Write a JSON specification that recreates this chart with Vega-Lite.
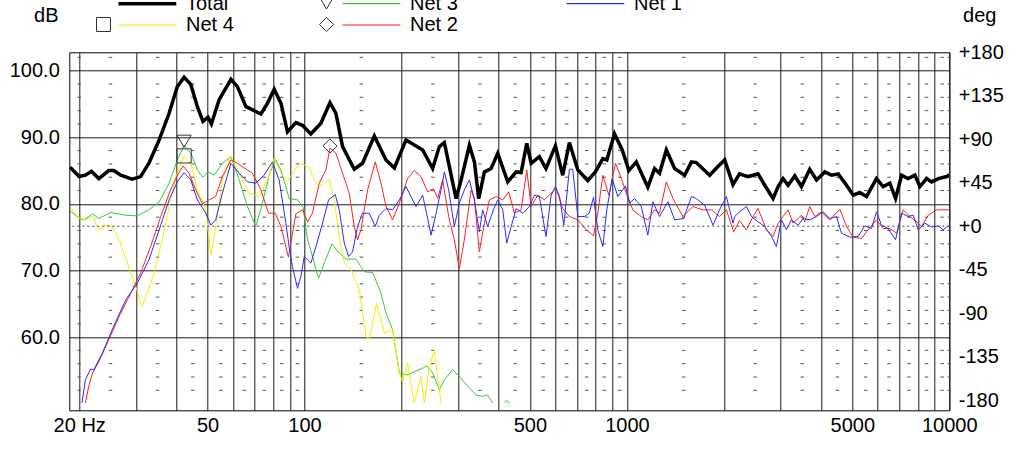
{
  "width": 880,
  "height": 358,
  "autosize": {"type": "none"},
  "padding": {"left": 69.3, "top": 52.3, "right": 74.7, "bottom": 51.7},
  "background": "white",
  "datasets": {
    "minor": [
      {"dB": 52, "freq": [20,25,35,45,55,65,75,85,95,150,250,350,450,550,650,750,850,950,1500,2500,3500,4500,5500,6500,7500,8500,9500,10000]},
      {"dB": 54, "freq": [20,25,35,45,55,65,75,85,95,150,250,350,450,550,650,750,850,950,1500,2500,3500,4500,5500,6500,7500,8500,9500,10000]},
      {"dB": 56, "freq": [20,25,35,45,55,65,75,85,95,150,250,350,450,550,650,750,850,950,1500,2500,3500,4500,5500,6500,7500,8500,9500,10000]},
      {"dB": 58, "freq": [20,25,35,45,55,65,75,85,95,150,250,350,450,550,650,750,850,950,1500,2500,3500,4500,5500,6500,7500,8500,9500,10000]},
      {"dB": 62, "freq": [20,25,35,45,55,65,75,85,95,150,250,350,450,550,650,750,850,950,1500,2500,3500,4500,5500,6500,7500,8500,9500,10000]},
      {"dB": 64, "freq": [20,25,35,45,55,65,75,85,95,150,250,350,450,550,650,750,850,950,1500,2500,3500,4500,5500,6500,7500,8500,9500,10000]},
      {"dB": 66, "freq": [20,25,35,45,55,65,75,85,95,150,250,350,450,550,650,750,850,950,1500,2500,3500,4500,5500,6500,7500,8500,9500,10000]},
      {"dB": 68, "freq": [20,25,35,45,55,65,75,85,95,150,250,350,450,550,650,750,850,950,1500,2500,3500,4500,5500,6500,7500,8500,9500,10000]},
      {"dB": 72, "freq": [20,25,35,45,55,65,75,85,95,150,250,350,450,550,650,750,850,950,1500,2500,3500,4500,5500,6500,7500,8500,9500,10000]},
      {"dB": 74, "freq": [20,25,35,45,55,65,75,85,95,150,250,350,450,550,650,750,850,950,1500,2500,3500,4500,5500,6500,7500,8500,9500,10000]},
      {"dB": 76, "freq": [20,25,35,45,55,65,75,85,95,150,250,350,450,550,650,750,850,950,1500,2500,3500,4500,5500,6500,7500,8500,9500,10000]},
      {"dB": 78, "freq": [20,25,35,45,55,65,75,85,95,150,250,350,450,550,650,750,850,950,1500,2500,3500,4500,5500,6500,7500,8500,9500,10000]},
      {"dB": 82, "freq": [20,25,35,45,55,65,75,85,95,150,250,350,450,550,650,750,850,950,1500,2500,3500,4500,5500,6500,7500,8500,9500,10000]},
      {"dB": 84, "freq": [20,25,35,45,55,65,75,85,95,150,250,350,450,550,650,750,850,950,1500,2500,3500,4500,5500,6500,7500,8500,9500,10000]},
      {"dB": 86, "freq": [20,25,35,45,55,65,75,85,95,150,250,350,450,550,650,750,850,950,1500,2500,3500,4500,5500,6500,7500,8500,9500,10000]},
      {"dB": 88, "freq": [20,25,35,45,55,65,75,85,95,150,250,350,450,550,650,750,850,950,1500,2500,3500,4500,5500,6500,7500,8500,9500,10000]},
      {"dB": 92, "freq": [20,25,35,45,55,65,75,85,95,150,250,350,450,550,650,750,850,950,1500,2500,3500,4500,5500,6500,7500,8500,9500,10000]},
      {"dB": 94, "freq": [20,25,35,45,55,65,75,85,95,150,250,350,450,550,650,750,850,950,1500,2500,3500,4500,5500,6500,7500,8500,9500,10000]},
      {"dB": 96, "freq": [20,25,35,45,55,65,75,85,95,150,250,350,450,550,650,750,850,950,1500,2500,3500,4500,5500,6500,7500,8500,9500,10000]},
      {"dB": 98, "freq": [20,25,35,45,55,65,75,85,95,150,250,350,450,550,650,750,850,950,1500,2500,3500,4500,5500,6500,7500,8500,9500,10000]},
      {"dB": 102, "freq": [20,25,35,45,55,65,75,85,95,150,250,350,450,550,650,750,850,950,1500,2500,3500,4500,5500,6500,7500,8500,9500,10000]}
    ],
    "markers": [
      {"series": "Net 3", "freq": 42.3, "dB": 89.4},
      {"series": "Net 4", "freq": 42.3, "dB": 87.2},
      {"series": "Net 2", "freq": 119.9, "dB": 88.7}
    ],
    "curves": [
      {"series":"Total","freq":18.7,"dB":85.5},{"series":"Total","freq":18.9,"dB":85.3},{"series":"Total","freq":20.0,"dB":84.1},{"series":"Total","freq":20.9,"dB":84.3},{"series":"Total","freq":21.8,"dB":84.9},{"series":"Total","freq":23.0,"dB":83.8},{"series":"Total","freq":24.7,"dB":85.0},{"series":"Total","freq":25.6,"dB":85.0},{"series":"Total","freq":26.9,"dB":84.3},{"series":"Total","freq":29.2,"dB":83.7},{"series":"Total","freq":31.0,"dB":84.1},{"series":"Total","freq":32.9,"dB":86.1},{"series":"Total","freq":35.4,"dB":89.6},{"series":"Total","freq":38.0,"dB":93.6},{"series":"Total","freq":40.3,"dB":97.6},{"series":"Total","freq":42.3,"dB":99.0},{"series":"Total","freq":44.4,"dB":97.9},{"series":"Total","freq":46.5,"dB":94.6},{"series":"Total","freq":48.4,"dB":92.4},{"series":"Total","freq":50.2,"dB":93.0},{"series":"Total","freq":51.4,"dB":92.0},{"series":"Total","freq":54.3,"dB":95.6},{"series":"Total","freq":59.1,"dB":98.7},{"series":"Total","freq":61.9,"dB":97.6},{"series":"Total","freq":65.8,"dB":94.6},{"series":"Total","freq":73.2,"dB":93.5},{"series":"Total","freq":76.7,"dB":95.1},{"series":"Total","freq":80.5,"dB":97.2},{"series":"Total","freq":84.5,"dB":95.1},{"series":"Total","freq":88.5,"dB":90.8},{"series":"Total","freq":94.0,"dB":92.2},{"series":"Total","freq":98.5,"dB":91.8},{"series":"Total","freq":104.6,"dB":90.5},{"series":"Total","freq":112.4,"dB":92.1},{"series":"Total","freq":119.9,"dB":95.2},{"series":"Total","freq":125.1,"dB":93.6},{"series":"Total","freq":131.2,"dB":88.6},{"series":"Total","freq":142.6,"dB":85.2},{"series":"Total","freq":151.3,"dB":86.1},{"series":"Total","freq":164.6,"dB":90.2},{"series":"Total","freq":178.9,"dB":86.6},{"series":"Total","freq":189.9,"dB":85.4},{"series":"Total","freq":206.4,"dB":89.6},{"series":"Total","freq":232.5,"dB":88.1},{"series":"Total","freq":249.7,"dB":85.3},{"series":"Total","freq":261.9,"dB":88.6},{"series":"Total","freq":271.5,"dB":89.2},{"series":"Total","freq":281.3,"dB":85.6},{"series":"Total","freq":295.1,"dB":80.8},{"series":"Total","freq":306,"dB":83.6},{"series":"Total","freq":324.6,"dB":88.8},{"series":"Total","freq":336.4,"dB":86.3},{"series":"Total","freq":346.9,"dB":80.8},{"series":"Total","freq":361.3,"dB":84.8},{"series":"Total","freq":379,"dB":85.3},{"series":"Total","freq":397.3,"dB":87.6},{"series":"Total","freq":426.8,"dB":83.3},{"series":"Total","freq":453.2,"dB":84.8},{"series":"Total","freq":469.7,"dB":84.7},{"series":"Total","freq":489,"dB":89.1},{"series":"Total","freq":504.6,"dB":86.1},{"series":"Total","freq":535,"dB":87.1},{"series":"Total","freq":561,"dB":85.3},{"series":"Total","freq":600,"dB":88.7},{"series":"Total","freq":632,"dB":84.3},{"series":"Total","freq":663,"dB":89.2},{"series":"Total","freq":704,"dB":85.1},{"series":"Total","freq":756,"dB":83.5},{"series":"Total","freq":798,"dB":84.8},{"series":"Total","freq":842,"dB":86.8},{"series":"Total","freq":866,"dB":86.6},{"series":"Total","freq":915,"dB":90.5},{"series":"Total","freq":967,"dB":88.1},{"series":"Total","freq":1014,"dB":85.0},{"series":"Total","freq":1069,"dB":86.3},{"series":"Total","freq":1161,"dB":82.5},{"series":"Total","freq":1218,"dB":85.3},{"series":"Total","freq":1262,"dB":84.6},{"series":"Total","freq":1325,"dB":88.1},{"series":"Total","freq":1406,"dB":85.3},{"series":"Total","freq":1510,"dB":84.3},{"series":"Total","freq":1585,"dB":86.3},{"series":"Total","freq":1641,"dB":86.2},{"series":"Total","freq":1806,"dB":84.3},{"series":"Total","freq":1915,"dB":85.6},{"series":"Total","freq":2010,"dB":86.6},{"series":"Total","freq":2133,"dB":82.9},{"series":"Total","freq":2235,"dB":84.5},{"series":"Total","freq":2375,"dB":84.1},{"series":"Total","freq":2462,"dB":84.3},{"series":"Total","freq":2551,"dB":84.5},{"series":"Total","freq":2676,"dB":82.8},{"series":"Total","freq":2840,"dB":80.8},{"series":"Total","freq":2944,"dB":82.6},{"series":"Total","freq":3050,"dB":83.8},{"series":"Total","freq":3162,"dB":82.8},{"series":"Total","freq":3316,"dB":84.2},{"series":"Total","freq":3478,"dB":82.6},{"series":"Total","freq":3691,"dB":85.2},{"series":"Total","freq":3874,"dB":83.6},{"series":"Total","freq":4111,"dB":84.8},{"series":"Total","freq":4314,"dB":84.3},{"series":"Total","freq":4523,"dB":84.5},{"series":"Total","freq":4800,"dB":82.8},{"series":"Total","freq":5035,"dB":81.3},{"series":"Total","freq":5276,"dB":81.7},{"series":"Total","freq":5535,"dB":81.1},{"series":"Total","freq":5944,"dB":83.8},{"series":"Total","freq":6233,"dB":82.6},{"series":"Total","freq":6539,"dB":83.1},{"series":"Total","freq":6813,"dB":80.8},{"series":"Total","freq":7111,"dB":84.3},{"series":"Total","freq":7452,"dB":83.8},{"series":"Total","freq":7821,"dB":84.3},{"series":"Total","freq":8105,"dB":82.6},{"series":"Total","freq":8506,"dB":83.8},{"series":"Total","freq":8812,"dB":83.3},{"series":"Total","freq":9246,"dB":83.8},{"series":"Total","freq":9821,"dB":84.1},{"series":"Total","freq":10000,"dB":84.4},

      {"series":"Net 3","freq":18.7,"dB":79.0},{"series":"Net 3","freq":18.9,"dB":78.8},{"series":"Net 3","freq":20.0,"dB":77.8},{"series":"Net 3","freq":20.7,"dB":77.6},{"series":"Net 3","freq":22.0,"dB":78.5},{"series":"Net 3","freq":23.0,"dB":77.8},{"series":"Net 3","freq":25.0,"dB":78.7},{"series":"Net 3","freq":27.9,"dB":78.3},{"series":"Net 3","freq":30.3,"dB":78.2},{"series":"Net 3","freq":32.9,"dB":79.1},{"series":"Net 3","freq":35.4,"dB":80.3},{"series":"Net 3","freq":38.0,"dB":83.1},{"series":"Net 3","freq":40.3,"dB":86.6},{"series":"Net 3","freq":42.3,"dB":88.8},{"series":"Net 3","freq":44.4,"dB":87.6},{"series":"Net 3","freq":46.5,"dB":85.1},{"series":"Net 3","freq":48.4,"dB":84.0},{"series":"Net 3","freq":50.2,"dB":84.8},{"series":"Net 3","freq":52.4,"dB":84.3},{"series":"Net 3","freq":55.6,"dB":86.1},{"series":"Net 3","freq":59.1,"dB":87.1},{"series":"Net 3","freq":62.7,"dB":83.6},{"series":"Net 3","freq":66.5,"dB":79.6},{"series":"Net 3","freq":70.6,"dB":76.6},{"series":"Net 3","freq":74.0,"dB":80.1},{"series":"Net 3","freq":77.7,"dB":84.3},{"series":"Net 3","freq":81.1,"dB":86.7},{"series":"Net 3","freq":84.5,"dB":85.1},{"series":"Net 3","freq":89.6,"dB":80.8},{"series":"Net 3","freq":95.1,"dB":80.6},{"series":"Net 3","freq":99.0,"dB":79.5},{"series":"Net 3","freq":102.0,"dB":74.8},{"series":"Net 3","freq":105.8,"dB":72.1},{"series":"Net 3","freq":110.5,"dB":68.8},{"series":"Net 3","freq":115.1,"dB":71.1},{"series":"Net 3","freq":121.6,"dB":74.0},{"series":"Net 3","freq":128.1,"dB":72.6},{"series":"Net 3","freq":134.4,"dB":71.7},{"series":"Net 3","freq":144.4,"dB":71.7},{"series":"Net 3","freq":153.2,"dB":69.8},{"series":"Net 3","freq":162.6,"dB":69.7},{"series":"Net 3","freq":172.6,"dB":66.6},{"series":"Net 3","freq":178.9,"dB":63.6},{"series":"Net 3","freq":187.6,"dB":61.1},{"series":"Net 3","freq":196.8,"dB":54.6},{"series":"Net 3","freq":208.7,"dB":54.3},{"series":"Net 3","freq":218.9,"dB":54.8},{"series":"Net 3","freq":232.5,"dB":55.3},{"series":"Net 3","freq":239.2,"dB":55.7},{"series":"Net 3","freq":249.7,"dB":54.6},{"series":"Net 3","freq":261.9,"dB":52.1},{"series":"Net 3","freq":271.5,"dB":53.6},{"series":"Net 3","freq":288.0,"dB":55.1},{"series":"Net 3","freq":302.1,"dB":54.1},{"series":"Net 3","freq":320.7,"dB":52.6},{"series":"Net 3","freq":340.5,"dB":51.3},{"series":"Net 3","freq":356.9,"dB":51.1},{"series":"Net 3","freq":369.9,"dB":51.3},{"series":"Net 3","freq":383.4,"dB":50.1},{"series":"Net 3","freq":400,"dB":null},{"series":"Net 3","freq":416.9,"dB":50.1},{"series":"Net 3","freq":423.8,"dB":50.5},{"series":"Net 3","freq":432.1,"dB":50.0},

      {"series":"Net 4","freq":18.7,"dB":79.5},{"series":"Net 4","freq":18.9,"dB":79.3},{"series":"Net 4","freq":19.7,"dB":78.1},{"series":"Net 4","freq":20.9,"dB":77.6},{"series":"Net 4","freq":22.0,"dB":78.1},{"series":"Net 4","freq":23.0,"dB":76.1},{"series":"Net 4","freq":24.2,"dB":76.8},{"series":"Net 4","freq":25.3,"dB":76.6},{"series":"Net 4","freq":26.6,"dB":74.6},{"series":"Net 4","freq":28.2,"dB":71.1},{"series":"Net 4","freq":29.6,"dB":68.3},{"series":"Net 4","freq":31.3,"dB":64.6},{"series":"Net 4","freq":32.5,"dB":66.6},{"series":"Net 4","freq":34.1,"dB":69.6},{"series":"Net 4","freq":36.2,"dB":74.6},{"series":"Net 4","freq":38.4,"dB":80.6},{"series":"Net 4","freq":40.3,"dB":84.8},{"series":"Net 4","freq":42.3,"dB":87.2},{"series":"Net 4","freq":44.4,"dB":86.1},{"series":"Net 4","freq":46.5,"dB":82.1},{"series":"Net 4","freq":49.4,"dB":79.1},{"series":"Net 4","freq":51.2,"dB":72.3},{"series":"Net 4","freq":53.0,"dB":76.6},{"series":"Net 4","freq":55.6,"dB":83.6},{"series":"Net 4","freq":59.1,"dB":87.1},{"series":"Net 4","freq":62.7,"dB":84.6},{"series":"Net 4","freq":67.3,"dB":81.6},{"series":"Net 4","freq":72.3,"dB":81.1},{"series":"Net 4","freq":76.7,"dB":83.6},{"series":"Net 4","freq":80.5,"dB":86.8},{"series":"Net 4","freq":84.5,"dB":84.6},{"series":"Net 4","freq":88.5,"dB":83.3},{"series":"Net 4","freq":94.0,"dB":85.4},{"series":"Net 4","freq":98.5,"dB":86.0},{"series":"Net 4","freq":103.4,"dB":85.4},{"series":"Net 4","freq":107.1,"dB":83.6},{"series":"Net 4","freq":111.0,"dB":82.6},{"series":"Net 4","freq":115.1,"dB":83.1},{"series":"Net 4","freq":119.3,"dB":83.6},{"series":"Net 4","freq":123.6,"dB":80.6},{"series":"Net 4","freq":128.1,"dB":75.1},{"series":"Net 4","freq":132.8,"dB":71.1},{"series":"Net 4","freq":139.3,"dB":70.1},{"series":"Net 4","freq":147.8,"dB":67.1},{"series":"Net 4","freq":155.1,"dB":60.1},{"series":"Net 4","freq":158.8,"dB":59.7},{"series":"Net 4","freq":167.3,"dB":65.1},{"series":"Net 4","freq":176.8,"dB":60.6},{"series":"Net 4","freq":187.6,"dB":61.1},{"series":"Net 4","freq":196.8,"dB":54.6},{"series":"Net 4","freq":201.4,"dB":53.3},{"series":"Net 4","freq":208.7,"dB":56.1},{"series":"Net 4","freq":218.9,"dB":50.1},{"series":"Net 4","freq":229.8,"dB":54.1},{"series":"Net 4","freq":235.3,"dB":50.1},{"series":"Net 4","freq":243.9,"dB":55.6},{"series":"Net 4","freq":252.8,"dB":58.1},{"series":"Net 4","freq":261.9,"dB":52.1},{"series":"Net 4","freq":265.1,"dB":50.1},

      {"series":"Net 2","freq":20.9,"dB":50.1},{"series":"Net 2","freq":21.4,"dB":52.6},{"series":"Net 2","freq":22.0,"dB":54.6},{"series":"Net 2","freq":23.0,"dB":56.3},{"series":"Net 2","freq":24.7,"dB":59.6},{"series":"Net 2","freq":26.6,"dB":63.1},{"series":"Net 2","freq":28.9,"dB":66.6},{"series":"Net 2","freq":31.0,"dB":69.6},{"series":"Net 2","freq":33.3,"dB":73.6},{"series":"Net 2","freq":35.8,"dB":78.1},{"series":"Net 2","freq":38.4,"dB":82.1},{"series":"Net 2","freq":40.3,"dB":84.3},{"series":"Net 2","freq":42.0,"dB":85.7},{"series":"Net 2","freq":43.8,"dB":84.6},{"series":"Net 2","freq":46.0,"dB":82.1},{"series":"Net 2","freq":48.2,"dB":80.0},{"series":"Net 2","freq":50.6,"dB":80.6},{"series":"Net 2","freq":53.0,"dB":81.1},{"series":"Net 2","freq":55.6,"dB":84.1},{"series":"Net 2","freq":59.1,"dB":86.6},{"series":"Net 2","freq":61.9,"dB":86.1},{"series":"Net 2","freq":65.0,"dB":85.4},{"series":"Net 2","freq":68.9,"dB":84.6},{"series":"Net 2","freq":73.2,"dB":82.1},{"series":"Net 2","freq":77.3,"dB":78.6},{"series":"Net 2","freq":81.1,"dB":78.6},{"series":"Net 2","freq":84.5,"dB":76.6},{"series":"Net 2","freq":89.1,"dB":72.0},{"series":"Net 2","freq":94.0,"dB":78.5},{"series":"Net 2","freq":98.5,"dB":79.1},{"series":"Net 2","freq":102.2,"dB":77.3},{"series":"Net 2","freq":105.8,"dB":78.6},{"series":"Net 2","freq":111.0,"dB":83.1},{"series":"Net 2","freq":116.5,"dB":85.1},{"series":"Net 2","freq":119.9,"dB":88.4},{"series":"Net 2","freq":125.1,"dB":87.6},{"series":"Net 2","freq":131.2,"dB":84.6},{"series":"Net 2","freq":137.6,"dB":81.6},{"series":"Net 2","freq":142.6,"dB":76.6},{"series":"Net 2","freq":146.0,"dB":74.6},{"series":"Net 2","freq":149.6,"dB":76.1},{"series":"Net 2","freq":156.9,"dB":82.1},{"series":"Net 2","freq":165.7,"dB":86.3},{"series":"Net 2","freq":172.6,"dB":83.1},{"series":"Net 2","freq":178.9,"dB":79.6},{"series":"Net 2","freq":187.6,"dB":77.6},{"series":"Net 2","freq":196.8,"dB":80.1},{"series":"Net 2","freq":208.7,"dB":83.8},{"series":"Net 2","freq":218.9,"dB":85.0},{"series":"Net 2","freq":229.8,"dB":84.1},{"series":"Net 2","freq":240.9,"dB":81.8},{"series":"Net 2","freq":250.9,"dB":82.3},{"series":"Net 2","freq":258.8,"dB":80.8},{"series":"Net 2","freq":268.2,"dB":83.6},{"series":"Net 2","freq":279.9,"dB":78.1},{"series":"Net 2","freq":291.5,"dB":74.6},{"series":"Net 2","freq":302.1,"dB":70.3},{"series":"Net 2","freq":313.1,"dB":74.6},{"series":"Net 2","freq":328.6,"dB":82.1},{"series":"Net 2","freq":336.4,"dB":80.8},{"series":"Net 2","freq":348.5,"dB":72.8},{"series":"Net 2","freq":361.3,"dB":77.1},{"series":"Net 2","freq":374.5,"dB":80.6},{"series":"Net 2","freq":392.9,"dB":81.1},{"series":"Net 2","freq":411.9,"dB":80.6},{"series":"Net 2","freq":429.9,"dB":81.8},{"series":"Net 2","freq":447.7,"dB":78.6},{"series":"Net 2","freq":469.7,"dB":79.1},{"series":"Net 2","freq":489,"dB":85.1},{"series":"Net 2","freq":504.6,"dB":79.6},{"series":"Net 2","freq":529,"dB":81.3},{"series":"Net 2","freq":555,"dB":80.6},{"series":"Net 2","freq":582,"dB":81.6},{"series":"Net 2","freq":603,"dB":82.3},{"series":"Net 2","freq":632,"dB":79.3},{"series":"Net 2","freq":663,"dB":78.1},{"series":"Net 2","freq":704,"dB":77.6},{"series":"Net 2","freq":748,"dB":76.1},{"series":"Net 2","freq":788,"dB":75.2},{"series":"Net 2","freq":812,"dB":78.6},{"series":"Net 2","freq":842,"dB":84.3},{"series":"Net 2","freq":879,"dB":81.3},{"series":"Net 2","freq":922,"dB":86.1},{"series":"Net 2","freq":961,"dB":83.8},{"series":"Net 2","freq":995,"dB":81.6},{"series":"Net 2","freq":1043,"dB":79.1},{"series":"Net 2","freq":1108,"dB":78.1},{"series":"Net 2","freq":1161,"dB":77.6},{"series":"Net 2","freq":1218,"dB":79.1},{"series":"Net 2","freq":1262,"dB":78.6},{"series":"Net 2","freq":1325,"dB":83.3},{"series":"Net 2","freq":1389,"dB":80.8},{"series":"Net 2","freq":1492,"dB":78.1},{"series":"Net 2","freq":1602,"dB":79.6},{"series":"Net 2","freq":1721,"dB":79.1},{"series":"Net 2","freq":1828,"dB":79.1},{"series":"Net 2","freq":1937,"dB":78.1},{"series":"Net 2","freq":2035,"dB":79.1},{"series":"Net 2","freq":2144,"dB":75.8},{"series":"Net 2","freq":2235,"dB":77.5},{"series":"Net 2","freq":2348,"dB":76.1},{"series":"Net 2","freq":2473,"dB":78.3},{"series":"Net 2","freq":2551,"dB":79.3},{"series":"Net 2","freq":2709,"dB":76.1},{"series":"Net 2","freq":2840,"dB":75.1},{"series":"Net 2","freq":2944,"dB":77.1},{"series":"Net 2","freq":3050,"dB":78.1},{"series":"Net 2","freq":3162,"dB":79.1},{"series":"Net 2","freq":3276,"dB":77.1},{"series":"Net 2","freq":3478,"dB":78.3},{"series":"Net 2","freq":3561,"dB":77.3},{"series":"Net 2","freq":3691,"dB":79.6},{"series":"Net 2","freq":3825,"dB":78.1},{"series":"Net 2","freq":4013,"dB":78.8},{"series":"Net 2","freq":4261,"dB":77.6},{"series":"Net 2","freq":4575,"dB":79.2},{"series":"Net 2","freq":4800,"dB":76.6},{"series":"Net 2","freq":5035,"dB":75.0},{"series":"Net 2","freq":5343,"dB":74.8},{"series":"Net 2","freq":5535,"dB":75.8},{"series":"Net 2","freq":5944,"dB":77.6},{"series":"Net 2","freq":6233,"dB":76.3},{"series":"Net 2","freq":6539,"dB":76.3},{"series":"Net 2","freq":6862,"dB":75.6},{"series":"Net 2","freq":7192,"dB":79.1},{"series":"Net 2","freq":7547,"dB":78.1},{"series":"Net 2","freq":7917,"dB":77.3},{"series":"Net 2","freq":8203,"dB":76.6},{"series":"Net 2","freq":8603,"dB":78.3},{"series":"Net 2","freq":9136,"dB":79.1},{"series":"Net 2","freq":9924,"dB":79.1},{"series":"Net 2","freq":10000,"dB":79.1},

      {"series":"Net 1","freq":20.4,"dB":50.1},{"series":"Net 1","freq":20.9,"dB":53.6},{"series":"Net 1","freq":21.7,"dB":55.2},{"series":"Net 1","freq":22.2,"dB":55.1},{"series":"Net 1","freq":23.6,"dB":57.6},{"series":"Net 1","freq":25.3,"dB":61.1},{"series":"Net 1","freq":27.9,"dB":65.6},{"series":"Net 1","freq":30.3,"dB":68.1},{"series":"Net 1","freq":32.9,"dB":71.6},{"series":"Net 1","freq":35.4,"dB":76.1},{"series":"Net 1","freq":38.0,"dB":80.6},{"series":"Net 1","freq":40.3,"dB":83.3},{"series":"Net 1","freq":42.3,"dB":84.7},{"series":"Net 1","freq":44.4,"dB":83.6},{"series":"Net 1","freq":46.5,"dB":80.6},{"series":"Net 1","freq":49.4,"dB":78.6},{"series":"Net 1","freq":51.2,"dB":76.8},{"series":"Net 1","freq":53.0,"dB":77.6},{"series":"Net 1","freq":55.6,"dB":81.6},{"series":"Net 1","freq":59.1,"dB":86.1},{"series":"Net 1","freq":62.7,"dB":84.6},{"series":"Net 1","freq":66.5,"dB":83.3},{"series":"Net 1","freq":70.6,"dB":83.1},{"series":"Net 1","freq":74.9,"dB":84.3},{"series":"Net 1","freq":79.5,"dB":86.3},{"series":"Net 1","freq":83.4,"dB":83.6},{"series":"Net 1","freq":87.5,"dB":77.1},{"series":"Net 1","freq":89.6,"dB":73.5},{"series":"Net 1","freq":91.7,"dB":70.6},{"series":"Net 1","freq":95.1,"dB":67.3},{"series":"Net 1","freq":97.4,"dB":69.1},{"series":"Net 1","freq":99.8,"dB":72.1},{"series":"Net 1","freq":104.6,"dB":71.1},{"series":"Net 1","freq":108.5,"dB":73.6},{"series":"Net 1","freq":113.7,"dB":77.1},{"series":"Net 1","freq":118.7,"dB":80.6},{"series":"Net 1","freq":124.5,"dB":81.4},{"series":"Net 1","freq":128.1,"dB":79.1},{"series":"Net 1","freq":132.8,"dB":74.1},{"series":"Net 1","freq":136.9,"dB":72.1},{"series":"Net 1","freq":140.9,"dB":72.8},{"series":"Net 1","freq":146.0,"dB":76.6},{"series":"Net 1","freq":151.3,"dB":78.6},{"series":"Net 1","freq":158.8,"dB":78.6},{"series":"Net 1","freq":165.7,"dB":76.6},{"series":"Net 1","freq":170.6,"dB":78.3},{"series":"Net 1","freq":178.9,"dB":79.3},{"series":"Net 1","freq":187.6,"dB":79.1},{"series":"Net 1","freq":196.8,"dB":80.6},{"series":"Net 1","freq":206.4,"dB":82.6},{"series":"Net 1","freq":213.9,"dB":81.1},{"series":"Net 1","freq":221.7,"dB":79.6},{"series":"Net 1","freq":232.5,"dB":81.3},{"series":"Net 1","freq":240.9,"dB":77.8},{"series":"Net 1","freq":246.9,"dB":75.3},{"series":"Net 1","freq":255.9,"dB":78.6},{"series":"Net 1","freq":265.1,"dB":82.1},{"series":"Net 1","freq":271.5,"dB":84.8},{"series":"Net 1","freq":279.9,"dB":82.1},{"series":"Net 1","freq":291.5,"dB":76.6},{"series":"Net 1","freq":302.1,"dB":80.1},{"series":"Net 1","freq":313.1,"dB":82.1},{"series":"Net 1","freq":324.6,"dB":83.6},{"series":"Net 1","freq":336.4,"dB":80.6},{"series":"Net 1","freq":348.5,"dB":75.8},{"series":"Net 1","freq":356.9,"dB":79.1},{"series":"Net 1","freq":369.9,"dB":76.6},{"series":"Net 1","freq":385.4,"dB":79.1},{"series":"Net 1","freq":397.3,"dB":80.6},{"series":"Net 1","freq":411.9,"dB":79.1},{"series":"Net 1","freq":423.8,"dB":74.1},{"series":"Net 1","freq":437.5,"dB":76.6},{"series":"Net 1","freq":453.2,"dB":79.3},{"series":"Net 1","freq":475.2,"dB":78.6},{"series":"Net 1","freq":498.4,"dB":79.6},{"series":"Net 1","freq":516.5,"dB":81.3},{"series":"Net 1","freq":535,"dB":81.1},{"series":"Net 1","freq":561,"dB":75.1},{"series":"Net 1","freq":582,"dB":81.3},{"series":"Net 1","freq":600,"dB":82.6},{"series":"Net 1","freq":618,"dB":81.1},{"series":"Net 1","freq":637,"dB":76.8},{"series":"Net 1","freq":663,"dB":85.2},{"series":"Net 1","freq":679,"dB":85.2},{"series":"Net 1","freq":704,"dB":78.1},{"series":"Net 1","freq":739,"dB":78.1},{"series":"Net 1","freq":764,"dB":78.6},{"series":"Net 1","freq":788,"dB":81.0},{"series":"Net 1","freq":812,"dB":76.1},{"series":"Net 1","freq":842,"dB":73.6},{"series":"Net 1","freq":866,"dB":79.1},{"series":"Net 1","freq":900,"dB":83.8},{"series":"Net 1","freq":937,"dB":81.1},{"series":"Net 1","freq":990,"dB":82.7},{"series":"Net 1","freq":1019,"dB":80.1},{"series":"Net 1","freq":1056,"dB":80.8},{"series":"Net 1","freq":1108,"dB":79.6},{"series":"Net 1","freq":1161,"dB":75.3},{"series":"Net 1","freq":1204,"dB":80.3},{"series":"Net 1","freq":1262,"dB":78.1},{"series":"Net 1","freq":1340,"dB":80.3},{"series":"Net 1","freq":1406,"dB":77.6},{"series":"Net 1","freq":1499,"dB":77.8},{"series":"Net 1","freq":1585,"dB":81.1},{"series":"Net 1","freq":1641,"dB":80.8},{"series":"Net 1","freq":1742,"dB":79.8},{"series":"Net 1","freq":1849,"dB":76.8},{"series":"Net 1","freq":1937,"dB":79.1},{"series":"Net 1","freq":2035,"dB":81.1},{"series":"Net 1","freq":2133,"dB":77.1},{"series":"Net 1","freq":2160,"dB":78.1},{"series":"Net 1","freq":2235,"dB":78.8},{"series":"Net 1","freq":2348,"dB":79.6},{"series":"Net 1","freq":2434,"dB":78.1},{"series":"Net 1","freq":2551,"dB":77.3},{"series":"Net 1","freq":2676,"dB":76.6},{"series":"Net 1","freq":2808,"dB":75.1},{"series":"Net 1","freq":2909,"dB":73.6},{"series":"Net 1","freq":3015,"dB":77.6},{"series":"Net 1","freq":3125,"dB":76.1},{"series":"Net 1","freq":3238,"dB":77.6},{"series":"Net 1","freq":3395,"dB":76.8},{"series":"Net 1","freq":3518,"dB":77.8},{"series":"Net 1","freq":3691,"dB":77.6},{"series":"Net 1","freq":3874,"dB":78.1},{"series":"Net 1","freq":4060,"dB":78.8},{"series":"Net 1","freq":4261,"dB":77.8},{"series":"Net 1","freq":4469,"dB":78.1},{"series":"Net 1","freq":4630,"dB":75.6},{"series":"Net 1","freq":4916,"dB":75.0},{"series":"Net 1","freq":5215,"dB":75.1},{"series":"Net 1","freq":5469,"dB":76.7},{"series":"Net 1","freq":5737,"dB":76.3},{"series":"Net 1","freq":5944,"dB":78.8},{"series":"Net 1","freq":6163,"dB":76.8},{"series":"Net 1","freq":6461,"dB":76.3},{"series":"Net 1","freq":6813,"dB":74.6},{"series":"Net 1","freq":7111,"dB":78.6},{"series":"Net 1","freq":7452,"dB":78.1},{"series":"Net 1","freq":7729,"dB":78.3},{"series":"Net 1","freq":8010,"dB":76.1},{"series":"Net 1","freq":8402,"dB":77.1},{"series":"Net 1","freq":8812,"dB":76.5},{"series":"Net 1","freq":9246,"dB":76.7},{"series":"Net 1","freq":9573,"dB":76.1},{"series":"Net 1","freq":9924,"dB":76.7},{"series":"Net 1","freq":10000,"dB":76.7}
    ]
  },
  "layer": [
    {
      "encoding": {
        "x": {
          "field": "freq", "type": "quantitative",
          "scale": {"type": "log", "domain": [18.63, 10000]},
          "axis": {
            "values": [20,30,40,50,60,70,80,90,100,200,300,400,500,600,700,800,900,1000,2000,3000,4000,5000,6000,7000,8000,9000,10000],
            "labelExpr": "datum.value == 20 ? '20 Hz' : (indexof([50,100,500,1000,5000,10000], datum.value) >= 0 ? format(datum.value, 'd') : '')",
            "labelPadding": 5, "labelOverlap": false, "labelBound": false, "labelFlush": false,
            "grid": true, "title": null
          }
        },
        "y": {
          "field": "dB", "type": "quantitative",
          "scale": {"domain": [49.0, 102.76]},
          "axis": {
            "values": [60,70,80,90,100], "format": ".1f", "labelPadding": 10, "grid": true,
            "title": "dB", "titleAngle": 0, "titleX": -23.5, "titleY": -37, "titleAlign": "center", "titleBaseline": "middle"
          }
        }
      },
      "layer": [
        {
          "data": {"name": "minor"},
          "transform": [{"flatten": ["freq"]}],
          "mark": {"type": "point", "shape": "stroke", "size": 12, "filled": false, "stroke": "#555555", "strokeWidth": 1, "opacity": 1}
        },
        {
          "data": {"name": "curves"},
          "transform": [{"filter": "datum.series !== 'Total'"}],
          "mark": {"type": "line", "strokeWidth": 1, "clip": true, "invalid": "break-paths-filter-domains"},
          "encoding": {
            "color": {
              "field": "series", "type": "nominal",
              "scale": {"domain": ["Total","Net 3","Net 1","Net 4","Net 2"], "range": ["#000000","#33cc33","#2b2bff","#f0f000","#ff2020"]},
              "legend": {"orient": "none", "legendX": 49, "legendY": -58.6, "direction": "horizontal", "columns": 3, "title": null,
                "symbolType": "stroke", "symbolSize": 3364, "symbolStrokeWidth": 1.2, "symbolOffset": 19, "labelOffset": 28.7, "columnPadding": 108, "rowPadding": 1.3, "clipHeight": 20,
                "labelFontSize": 20, "labelColor": "#000000",
                "encode": {"symbols": {"update": {"strokeWidth": {"signal": "datum.value === 'Total' ? 3.5 : 1.2"}}}}}
            }
          }
        },
        {
          "data": {"name": "curves"},
          "transform": [{"filter": "datum.series === 'Total'"}],
          "mark": {"type": "line", "strokeWidth": 3.5, "clip": true},
          "encoding": {
            "color": {
              "field": "series", "type": "nominal",
              "scale": {"domain": ["Total","Net 3","Net 1","Net 4","Net 2"], "range": ["#000000","#33cc33","#2b2bff","#f0f000","#ff2020"]},
              "legend": {"orient": "none", "legendX": 49, "legendY": -58.6, "direction": "horizontal", "columns": 3, "title": null,
                "symbolType": "stroke", "symbolSize": 3364, "symbolStrokeWidth": 1.2, "symbolOffset": 19, "labelOffset": 28.7, "columnPadding": 108, "rowPadding": 1.3, "clipHeight": 20,
                "labelFontSize": 20, "labelColor": "#000000",
                "encode": {"symbols": {"update": {"strokeWidth": {"signal": "datum.value === 'Total' ? 3.5 : 1.2"}}}}}
            }
          }
        },
        {
          "data": {"name": "markers"},
          "mark": {"type": "point", "filled": false, "stroke": "#333333", "strokeWidth": 1, "size": 200, "opacity": 1},
          "encoding": {
            "shape": {
              "field": "series", "type": "nominal",
              "scale": {"domain": ["Total","Net 3","Net 4","Net 2"], "range": ["M0,0","triangle-down","square","diamond"]},
              "legend": {"orient": "none", "legendX": 26.7, "legendY": -56.8, "direction": "horizontal", "columns": 2, "title": null,
                "labelExpr": "''", "labelOffset": 0, "labelFontSize": 1, "symbolSize": 196, "columnPadding": 208, "rowPadding": 6.5, "clipHeight": 15,
                "symbolStrokeColor": "#333333", "symbolFillColor": "rgba(0,0,0,0)", "symbolStrokeWidth": 1}
            }
          }
        }
      ]
    },
    {
      "data": {"values": [{}]},
      "mark": {"type": "rule", "strokeDash": [2, 3], "color": "#444444", "strokeWidth": 1},
      "encoding": {
        "y": {
          "datum": 0, "type": "quantitative",
          "scale": {"domain": [-190.6, 180]},
          "axis": {
            "orient": "right",
            "values": [-180,-135,-90,-45,0,45,90,135,180],
            "labelExpr": "datum.value >= 0 ? '+' + datum.value : '-' + abs(datum.value)",
            "labelPadding": 9, "labelAlign": "left", "labelBaseline": "middle", "grid": false,
            "title": "deg", "titleAngle": 0, "titleX": 30, "titleY": -37, "titleAlign": "center", "titleBaseline": "middle"
          }
        }
      }
    }
  ],
  "resolve": {"scale": {"y": "independent"}, "axis": {"y": "independent"}},
  "config": {
    "font": "Liberation Sans",
    "view": {"stroke": "#000000", "strokeWidth": 1},
    "axis": {
      "labelFont": "Liberation Sans", "labelFontSize": 20, "labelColor": "#000000",
      "titleFont": "Liberation Sans", "titleFontSize": 20, "titleFontWeight": "normal", "titleColor": "#000000",
      "ticks": false, "domain": false, "gridColor": "#1a1a1a", "gridOpacity": 1, "gridWidth": 1
    },
    "legend": {"labelFont": "Liberation Sans", "labelFontSize": 20, "labelColor": "#000000", "padding": 0}
  }
}
